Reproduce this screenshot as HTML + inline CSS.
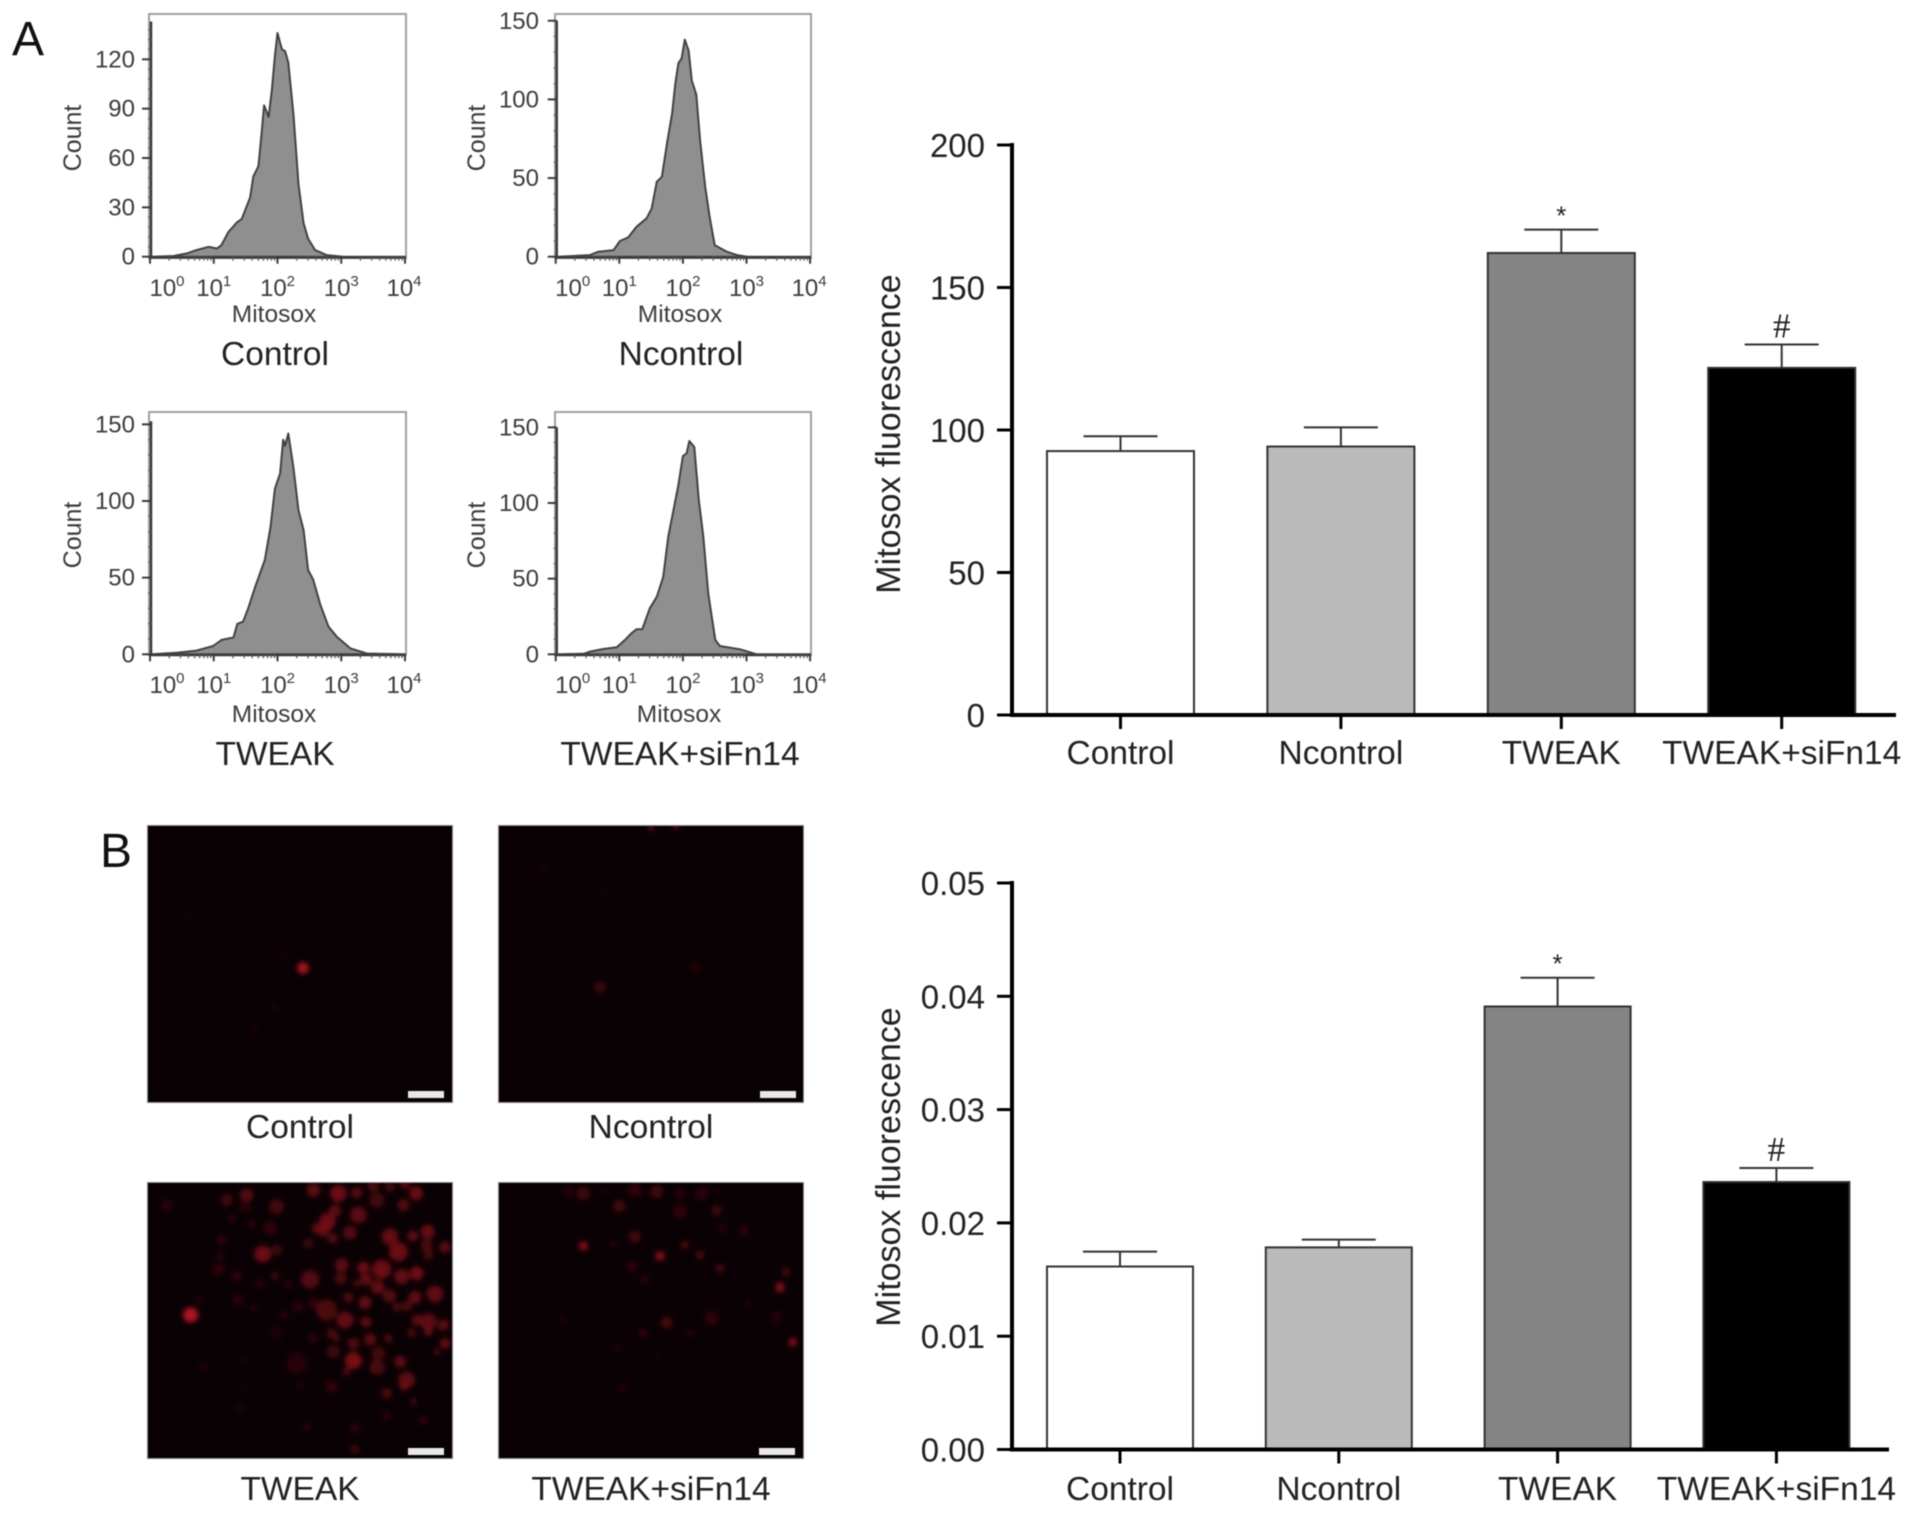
<!DOCTYPE html>
<html lang="en">
<head>
<meta charset="utf-8">
<title>Mitosox fluorescence figure</title>
<style>
html,body{margin:0;padding:0;background:#fff;}
#figure{display:block;width:1913px;height:1514px;font-family:"Liberation Sans",Arial,sans-serif;filter:blur(0.6px);}
</style>
</head>
<body>
<svg id="figure" xmlns="http://www.w3.org/2000/svg" width="1913" height="1514" viewBox="0 0 1913 1514">
  <defs>
    <filter id="cellBlur" x="-20%" y="-20%" width="140%" height="140%"><feGaussianBlur stdDeviation="2.6"/></filter>
    <clipPath id="clipControl"><rect x="148" y="826" width="304" height="276"/></clipPath>
    <clipPath id="clipNcontrol"><rect x="499" y="826" width="304" height="276"/></clipPath>
    <clipPath id="clipTweak"><rect x="148" y="1183" width="304" height="275"/></clipPath>
    <clipPath id="clipSifn"><rect x="499" y="1183" width="304" height="275"/></clipPath>
  </defs>
  <rect x="0" y="0" width="1913" height="1514" fill="#fff"/>
  <text x="12" y="55" font-size="48" fill="#111">A</text>
  <text x="100" y="867" font-size="48" fill="#111">B</text>

  <g>
    <rect x="147.500" y="825.500" width="305" height="277" fill="#090104" stroke="#888" stroke-width="1"/>
    <g id="cellsControl" clip-path="url(#clipControl)"></g>
    <rect x="408" y="1091" width="36" height="7" fill="#e8e8e8"/>
  </g>
  <g>
    <rect x="498.500" y="825.500" width="305" height="277" fill="#090104" stroke="#888" stroke-width="1"/>
    <g id="cellsNcontrol" clip-path="url(#clipNcontrol)"></g>
    <rect x="760" y="1091" width="36" height="7" fill="#e8e8e8"/>
  </g>
  <g>
    <rect x="147.500" y="1182.500" width="305" height="276" fill="#090104" stroke="#888" stroke-width="1"/>
    <g id="cellsTweak" clip-path="url(#clipTweak)"></g>
    <rect x="408" y="1448" width="36" height="7" fill="#e8e8e8"/>
  </g>
  <g>
    <rect x="498.500" y="1182.500" width="305" height="276" fill="#090104" stroke="#888" stroke-width="1"/>
    <g id="cellsSifn" clip-path="url(#clipSifn)"></g>
    <rect x="759" y="1448" width="36" height="7" fill="#e8e8e8"/>
  </g>
  <text x="300" y="1138" font-size="33.500" text-anchor="middle" fill="#222">Control</text>
  <text x="651" y="1138" font-size="33.500" text-anchor="middle" fill="#222">Ncontrol</text>
  <text x="300" y="1500" font-size="33.500" text-anchor="middle" fill="#222">TWEAK</text>
  <text x="651" y="1500" font-size="33.500" text-anchor="middle" fill="#222">TWEAK+siFn14</text>

  <g id="histograms"></g>
  <g id="barChartA"></g>
  <g id="barChartB"></g>
</svg>
<script>
// ---- Flow cytometry histograms: log10 fluorescence and event count ----
const controlLog = [0.03,0.37,0.58,0.73,0.92,1.05,1.12,1.23,1.36,1.44,1.52,1.57,1.62,1.70,1.75,1.79,1.86,1.91,1.96,2.00,2.04,2.07,2.12,2.17,2.25,2.33,2.41,2.48,2.59,2.77,3.03,4.00];
const controlCount = [0,0.4,2,4,6,5,7,15,20.7,23,31,36,48.7,55,75,92,85,101,122,136,130,126,125,118,87,44,20.3,11,4,1,0,0];
const ncontrolLog = [0.04,0.54,0.67,0.91,1.01,1.14,1.27,1.43,1.51,1.59,1.67,1.75,1.83,1.88,1.93,1.98,2.03,2.09,2.14,2.21,2.27,2.35,2.42,2.50,2.69,2.85,3.01,4.00];
const ncontrolCount = [0,1,3.2,4.2,10,12.3,19,24.4,30.7,47.7,50.8,72,91,110,123,126,138,131,112,103,74,44.5,25.4,7.4,3.2,1,0,0];
const tweakLog = [0.03,0.42,0.73,0.99,1.12,1.31,1.37,1.46,1.54,1.65,1.80,1.89,1.96,2.04,2.09,2.12,2.17,2.25,2.33,2.41,2.48,2.56,2.67,2.80,2.93,3.14,3.40,4.00];
const tweakCount = [0,1,2.4,5.4,9.3,11,19.8,21.3,30,44,61.5,83,108,118,140,136,144,122,94,81,55,48.7,32.6,18,11.5,3.9,0.5,0];
const sifnLog = [0.04,0.44,0.54,0.75,0.96,1.09,1.19,1.27,1.36,1.48,1.59,1.69,1.77,1.85,1.93,2.00,2.06,2.10,2.18,2.25,2.32,2.40,2.51,2.58,2.90,3.16,4.00];
const sifnCount = [0,0.3,1.8,3.5,4.6,9.5,13.9,16.5,16.5,30.4,38,51,78,95,112,131,133,141,137,102,78,40,9.5,5.5,3.3,0,0];
const decadeTicks = [0,1,2,3,4];
const controlYTicks = [0,30,60,90,120];
const otherYTicks = [0,50,100,150];

// ---- Bar charts ----
const barCategories = ["Control","Ncontrol","TWEAK","TWEAK+siFn14"];
const barFills = ["#ffffff","#bababa","#848484","#000000"];
const flowMeans = [92.6,94.2,162.1,121.8];
const flowErrorTops = [97.8,100.9,170.3,130];
const flowYTicks = [0,50,100,150,200];
const flowTickLabels = ["0","50","100","150","200"];
const flowMarks = ["","","*","#"];
const imageMeans = [0.01615,0.01784,0.0391,0.02361];
const imageErrorTops = [0.01747,0.01852,0.04164,0.02485];
const imageYTicks = [0,0.01,0.02,0.03,0.04,0.05];
const imageTickLabels = ["0.00","0.01","0.02","0.03","0.04","0.05"];
const imageMarks = ["","","*","#"];

// ---- Red fluorescent spots seen in the micrographs: [x, y, radius, brightness] ----
const controlSpots = [[303,968,5,1],[284,956,2,.25],[254,1029,2,.3],[274,1007,3,.15],[190,916,3,.08]];
const ncontrolSpots = [[600,987,5,.3],[695,967,5,.14],[651,828,3,.5],[676,826,3,.55],[543,869,3,.15],[573,855,3,.07],[606,893,3,.07]];
const tweakSpots = [[550,60,18,.5],[625,70,22,.6],[680,68,15,.45],[730,48,15,.4],[780,50,14,.35],[825,42,14,.45],[858,70,18,.6],[740,90,20,.35],[820,105,16,.45],[615,122,16,.5],[592,155,22,.6],[685,135,22,.5],[560,175,14,.45],[580,185,14,.5],[608,205,14,.45],[660,188,18,.45],[780,200,22,.55],[848,198,14,.55],[893,185,18,.6],[890,225,16,.4],[805,245,25,.6],[945,232,15,.5],[895,255,14,.35],[535,220,14,.3],[635,285,18,.5],[632,325,16,.4],[700,293,16,.6],[755,298,25,.6],[708,328,16,.55],[815,320,20,.55],[860,310,18,.65],[680,340,10,.4],[743,352,18,.55],[540,328,24,.45],[915,372,22,.55],[778,378,18,.45],[855,382,17,.55],[655,382,14,.4],[705,398,17,.55],[800,412,12,.4],[830,408,14,.4],[590,420,28,.4],[645,450,22,.55],[708,456,14,.55],[860,450,14,.5],[895,455,22,.5],[940,465,15,.5],[845,488,12,.4],[895,485,12,.5],[605,490,14,.35],[620,505,10,.35],[720,508,16,.5],[775,505,12,.4],[670,520,16,.4],[945,520,14,.55],[920,545,10,.35],[610,545,18,.3],[745,550,18,.35],[670,572,22,.7],[810,575,16,.5],[742,592,20,.4],[650,605,12,.35],[830,630,22,.5],[820,650,10,.5],[605,650,16,.25],[770,670,14,.4],[850,695,10,.3],[770,735,12,.2],[880,750,12,.25],[675,775,14,.2],[675,838,12,.3],[530,770,10,.25],[110,105,16,.2],[290,90,15,.35],[350,75,18,.45],[345,110,15,.2],[440,110,20,.35],[305,145,10,.25],[365,160,10,.25],[420,175,18,.25],[275,210,15,.2],[398,252,22,.6],[440,240,15,.3],[270,258,12,.2],[265,298,15,.25],[320,318,14,.25],[435,318,12,.3],[390,340,12,.2],[475,345,10,.25],[325,390,15,.2],[370,415,10,.2],[460,435,12,.2],[505,410,14,.2],[550,400,14,.25],[182,435,20,1],[205,390,8,.25],[440,490,18,.12],[550,505,12,.25],[500,580,28,.18],[340,570,10,.12],[220,590,12,.15],[335,660,8,.1],[330,715,14,.1],[510,650,12,.12]];
const sifnSpots = [[280,70,18,.3],[235,65,15,.15],[350,65,8,.15],[435,60,18,.25],[500,65,18,.3],[570,70,14,.2],[635,70,18,.2],[680,60,8,.15],[388,108,16,.35],[570,125,18,.25],[680,122,14,.3],[280,228,12,.8],[510,258,13,.75],[585,225,10,.5],[435,200,16,.35],[370,222,10,.2],[630,255,12,.35],[425,290,14,.25],[690,295,12,.35],[465,328,12,.2],[870,352,13,.75],[888,305,12,.35],[760,185,14,.2],[695,175,14,.15],[530,458,16,.35],[665,445,18,.25],[860,440,14,.2],[460,490,12,.25],[600,490,8,.3],[908,517,11,.8],[215,448,8,.2],[400,655,10,.2],[380,535,14,.12],[500,565,8,.12],[775,400,8,.2],[160,260,8,.12]];

const NS = "http://www.w3.org/2000/svg";
function make(tag, parent, attrs, text) {
  const node = document.createElementNS(NS, tag);
  for (const key in attrs) node.setAttribute(key, attrs[key]);
  if (text !== undefined) node.textContent = text;
  parent.appendChild(node);
  return node;
}

// ---- Histogram drawing ----
const histPanels = [
  {name:"control", title:"Control", logs:controlLog, counts:controlCount, ticks:controlYTicks, minorStep:6, yMax:143, box:[149,14,406,258], x0:150, dec:63.75, y0:256.7, k:1.645, labelRight:135, countX:81, countY:138, xBase:296, mitoBase:322, titleBase:365, cx:275},
  {name:"ncontrol", title:"Ncontrol", logs:ncontrolLog, counts:ncontrolCount, ticks:otherYTicks, minorStep:10, yMax:150, box:[555,14,811,258], x0:555.7, dec:63.6, y0:256.7, k:1.573, labelRight:539, countX:485, countY:138, xBase:296, mitoBase:322, titleBase:365, cx:681},
  {name:"tweak", title:"TWEAK", logs:tweakLog, counts:tweakCount, ticks:otherYTicks, minorStep:10, yMax:152, box:[149,412,406,655], x0:150, dec:63.75, y0:654.3, k:1.533, labelRight:135, countX:81, countY:535, xBase:693, mitoBase:722, titleBase:765, cx:275},
  {name:"tweak-sifn14", title:"TWEAK+siFn14", logs:sifnLog, counts:sifnCount, ticks:otherYTicks, minorStep:10, yMax:150, box:[555,412,811,655], x0:555.7, dec:63.6, y0:654.3, k:1.513, labelRight:539, countX:485, countY:535, xBase:693, mitoBase:722, titleBase:765, cx:680}
];
const histRoot = document.getElementById("histograms");
histPanels.forEach(function (p) {
  const xScale = function (v) { return p.x0 + v * p.dec; };
  const yScale = function (v) { return p.y0 - v * p.k; };
  const g = make("g", histRoot, {});
  
  

  const frame = make("rect", g, {x:p.box[0], y:p.box[1], width:p.box[2]-p.box[0], height:p.box[3]-p.box[1], fill:"#fff", stroke:"#a0a0a0", "stroke-width":2});
  
  

  let d = "M" + xScale(p.logs[0]) + " " + yScale(0);
  p.logs.forEach(function (v, i) { d += " L" + xScale(v).toFixed(1) + " " + yScale(p.counts[i]).toFixed(1); });
  const area = make("path", g, {d:d + " Z", fill:"#8f8f8f", stroke:"#424242", "stroke-width":2, "stroke-linejoin":"round"});
  
  

  const yAxis = make("line", g, {x1:p.x0+1, x2:p.x0+1, y1:yScale(p.yMax), y2:yScale(0)+1, stroke:"#3a3a3a", "stroke-width":2.5});
  
  
  const xAxis = make("line", g, {x1:p.x0, x2:xScale(4), y1:yScale(0)+1, y2:yScale(0)+1, stroke:"#3a3a3a", "stroke-width":2});
  
  

  for (let v = 0; v <= p.yMax; v += p.minorStep) {
    const minor = make("line", g, {x1:p.x0-2, x2:p.x0+1, y1:yScale(v), y2:yScale(v), stroke:"#555", "stroke-width":1.2});
    
    
  }
  p.ticks.forEach(function (v) {
    const tick = make("line", g, {x1:p.x0-8, x2:p.x0+1, y1:yScale(v), y2:yScale(v), stroke:"#3a3a3a", "stroke-width":2});
    
    
    const lab = make("text", g, {x:p.labelRight, y:yScale(v)+8, "font-size":24, "text-anchor":"end", fill:"#3c3c3c"}, String(v));
    
    
  });
  decadeTicks.forEach(function (dv, i) {
    const tick = make("line", g, {x1:xScale(dv), x2:xScale(dv), y1:yScale(0), y2:yScale(0)+7, stroke:"#3a3a3a", "stroke-width":2});
    
    
    if (i < decadeTicks.length - 1) {
      for (let m = 2; m <= 9; m++) {
        const mt = make("line", g, {x1:xScale(dv + Math.log10(m)), x2:xScale(dv + Math.log10(m)), y1:yScale(0), y2:yScale(0)+4, stroke:"#555", "stroke-width":1.2});
        
        
      }
    }
    const cx = xScale(dv) + (i === 0 ? 17 : 0) - (i === decadeTicks.length - 1 ? 1 : 0);
    const lab = make("text", g, {x:cx, y:p.xBase, "font-size":24, "text-anchor":"middle", fill:"#3c3c3c"});
    
    
    make("tspan", lab, {}, "10");
    make("tspan", lab, {dy:-10, "font-size":15}, String(dv));
  });
  const xTitle = make("text", g, {x:p.cx - 1, y:p.mitoBase, "font-size":24.5, "text-anchor":"middle", fill:"#3c3c3c"}, "Mitosox");
  
  
  const yTitle = make("text", g, {transform:"translate(" + p.countX + " " + p.countY + ") rotate(-90)", "font-size":25, "text-anchor":"middle", fill:"#3c3c3c"}, "Count");
  
  
  const title = make("text", g, {x:p.cx, y:p.titleBase, "font-size":33.5, "text-anchor":"middle", fill:"#222"}, p.title);
  
  
});

// ---- Bar chart drawing ----
function drawBars(rootId, cfg) {
  const root = document.getElementById(rootId);
  const yScale = function (v) { return cfg.yZero - (v / cfg.yMax) * (cfg.yZero - cfg.yTop); };
  const xScale = function (i) { return cfg.firstCenter + i * cfg.spacing; };
  
  

  const yAxis = make("line", root, {x1:cfg.axisX, x2:cfg.axisX, y1:yScale(cfg.yMax)-2, y2:cfg.yZero+2, stroke:"#000", "stroke-width":4});
  
  

  cfg.means.forEach(function (v, i) {
    const cx = xScale(i);
    const errLine = make("line", root, {x1:cx, x2:cx, y1:yScale(cfg.errs[i]), y2:yScale(v), stroke:"#333", "stroke-width":2});
    
    
    const cap = make("line", root, {x1:cx-37, x2:cx+37, y1:yScale(cfg.errs[i]), y2:yScale(cfg.errs[i]), stroke:"#333", "stroke-width":2});
    
    
    const bar = make("rect", root, {x:cx-cfg.barW/2, y:yScale(v), width:cfg.barW, height:yScale(0)-yScale(v), fill:barFills[i], stroke:"#333", "stroke-width":2});
    
    
    const tick = make("line", root, {x1:cx, x2:cx, y1:cfg.yZero, y2:cfg.yZero+14, stroke:"#000", "stroke-width":3});
    
    
    const lab = make("text", root, {x:cx, y:cfg.labelBase, "font-size":33.5, "text-anchor":"middle", fill:"#222"}, barCategories[i]);
    
    
    if (cfg.marks[i]) {
      const isStar = cfg.marks[i] === "*";
      const mark = make("text", root, {x:cx, y:yScale(cfg.errs[i]) - (isStar ? 5 : 7), "font-size":isStar ? 26 : 35, "text-anchor":"middle", fill:"#222", "font-family":isStar ? "Liberation Sans" : "Liberation Serif"}, cfg.marks[i]);
      
      
    }
  });

  const xAxis = make("line", root, {x1:cfg.axisX-2, x2:cfg.axisEnd, y1:cfg.yZero, y2:cfg.yZero, stroke:"#000", "stroke-width":4});
  
  

  cfg.ticks.forEach(function (v, i) {
    const tick = make("line", root, {x1:cfg.axisX-15, x2:cfg.axisX, y1:yScale(v), y2:yScale(v), stroke:"#000", "stroke-width":3});
    
    
    const lab = make("text", root, {x:985, y:yScale(v)+12, "font-size":33, "text-anchor":"end", fill:"#222"}, cfg.tickLabels[i]);
    
    
  });
  const title = make("text", root, {transform:"translate(" + cfg.titleX + " " + cfg.titleY + ") rotate(-90)", "font-size":34, "text-anchor":"middle", fill:"#222"}, "Mitosox fluorescence");
  
  
}
drawBars("barChartA", {name:"bar-chart-flow", means:flowMeans, errs:flowErrorTops, ticks:flowYTicks, tickLabels:flowTickLabels, marks:flowMarks, yMax:200, yZero:715, yTop:145, axisX:1012, axisEnd:1896, firstCenter:1120.5, spacing:220.4, barW:147, labelBase:764, titleX:900, titleY:434});
drawBars("barChartB", {name:"bar-chart-imaging", means:imageMeans, errs:imageErrorTops, ticks:imageYTicks, tickLabels:imageTickLabels, marks:imageMarks, yMax:0.05, yZero:1449.5, yTop:883, axisX:1012, axisEnd:1889, firstCenter:1120, spacing:218.8, barW:146, labelBase:1500, titleX:900, titleY:1167});

// ---- Micrograph spots ----
function drawSpots(id, spots, originX, originY, scale) {
  const root = document.getElementById(id);
  const blur = make("g", root, {filter:"url(#cellBlur)"});
  
  
  spots.forEach(function (s) {
    const spot = make("circle", blur, {cx:originX + s[0]*scale, cy:originY + s[1]*scale, r:s[2]*scale*1.15, fill:"#c01622", opacity:Math.min(1, s[3]*0.9)});
    
    
  });
}
drawSpots("cellsControl", controlSpots, 0, 0, 1);
drawSpots("cellsNcontrol", ncontrolSpots, 0, 0, 1);
drawSpots("cellsTweak", tweakSpots, 130, 1170, 1/3);
drawSpots("cellsSifn", sifnSpots, 490, 1170, 1/3);
</script>
</body>
</html>
